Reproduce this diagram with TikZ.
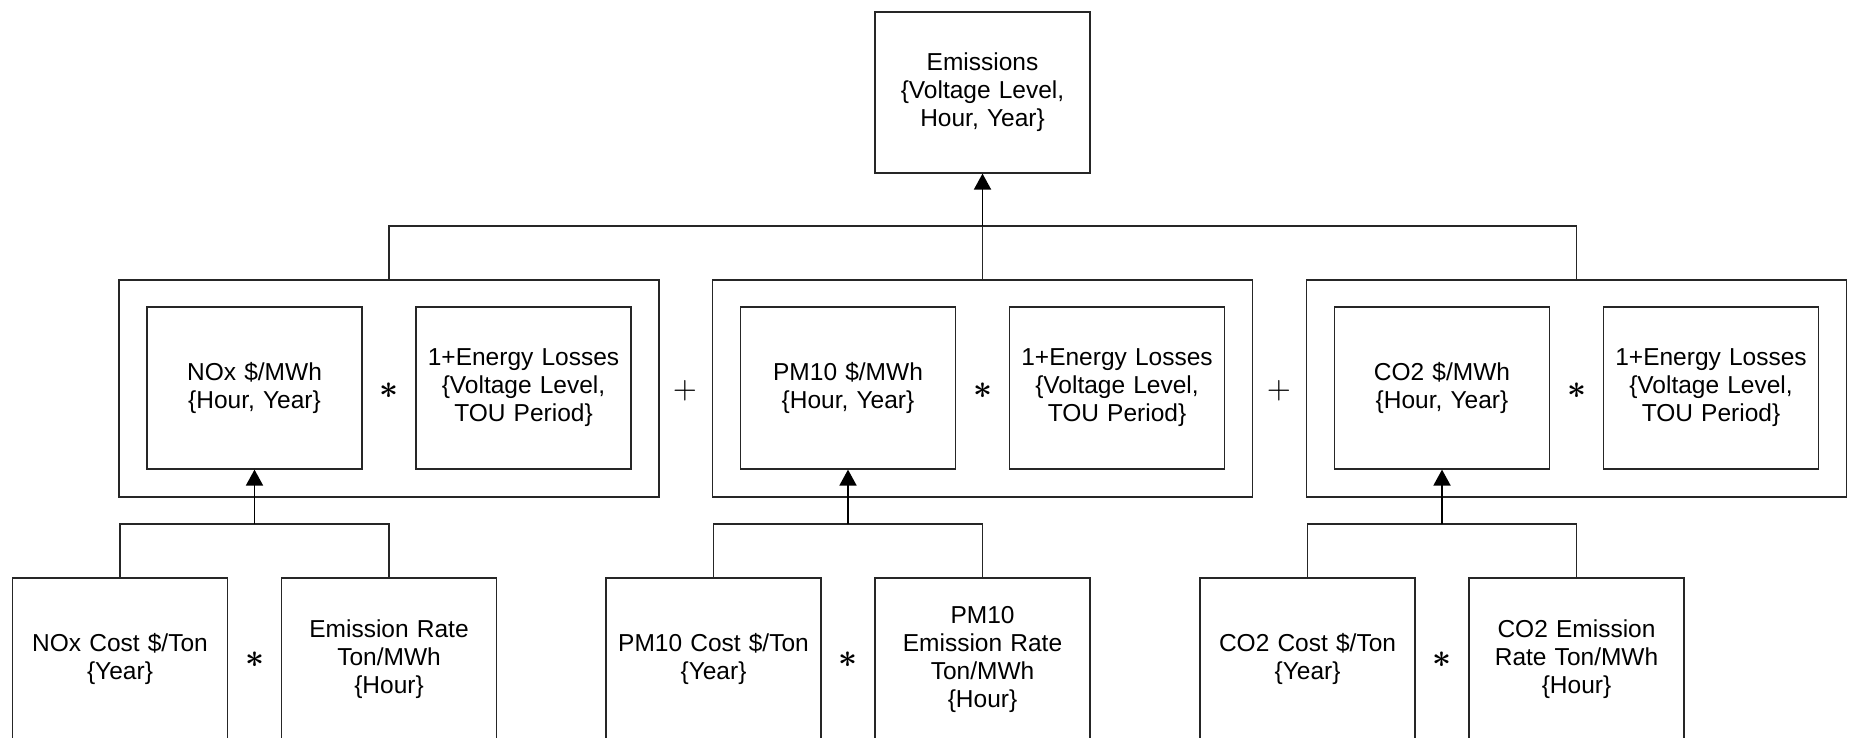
\documentclass[tikz,border=0pt]{standalone}
\usepackage{fontspec}
\usepackage{graphicx}
\setmainfont{Liberation Sans}
\usetikzlibrary{arrows.meta}
\newcommand{\opstar}{\scalebox{3.3}{\boldmath$\ast$}}
\newcommand{\opplus}{\scalebox{3.1}{$+$}}
\begin{document}
\begin{tikzpicture}[x=1pt,y=-1pt,
  every node/.style={font=\fontsize{24.5}{28}\selectfont, align=center, inner sep=0pt},
  box/.style={draw=black!85, line width=1.2pt, minimum width=215pt, minimum height=162pt, text width=205pt},
  grp/.style={draw=black!85, line width=1.2pt, minimum width=540pt, minimum height=217pt},
  conn/.style={draw=black!85, line width=1.2pt},
  arr/.style={draw=black, line width=1.8pt, -{Triangle[width=17pt,length=16pt]}},
  op/.style={font=\normalsize}
]
\useasboundingbox (0,0) rectangle (1854,737);
\clip (0,0) rectangle (1854,737);

% top
\node[box, minimum height=161pt] (top) at (982.5,92.5) {Emissions\\\{Voltage Level,\\Hour, Year\}};

% groups
\node[grp] (g1) at (389,388.5) {};
\node[grp] (g2) at (982.5,388.5) {};
\node[grp] (g3) at (1576.5,388.5) {};

% inner boxes
\node[box] (a1) at (254.5,388) {NOx \$/MWh\\\{Hour, Year\}};
\node[box] (l1) at (523.5,388) {1+Energy Losses\\\{Voltage Level,\\TOU Period\}};
\node[box] (a2) at (848,388) {PM10 \$/MWh\\\{Hour, Year\}};
\node[box] (l2) at (1117,388) {1+Energy Losses\\\{Voltage Level,\\TOU Period\}};
\node[box] (a3) at (1442,388) {CO2 \$/MWh\\\{Hour, Year\}};
\node[box] (l3) at (1711,388) {1+Energy Losses\\\{Voltage Level,\\TOU Period\}};

% operators middle row
\node[op] (m1) at (389,391) {\opstar};
\node[op] (m2) at (982.5,391) {\opstar};
\node[op] (m3) at (1576.5,391) {\opstar};
\node[op] (p1) at (685,391) {\opplus};
\node[op] (p2) at (1279,391) {\opplus};

% bottom boxes
\node[box] (c1) at (120,659) {NOx Cost \$/Ton\\\{Year\}};
\node[box] (r1) at (389,659) {Emission Rate\\Ton/MWh\\\{Hour\}};
\node[box] (c2) at (713.5,659) {PM10 Cost \$/Ton\\\{Year\}};
\node[box] (r2) at (982.5,659) {PM10\\Emission Rate\\Ton/MWh\\\{Hour\}};
\node[box] (c3) at (1307.5,659) {CO2 Cost \$/Ton\\\{Year\}};
\node[box] (r3) at (1576.5,659) {CO2 Emission\\Rate Ton/MWh\\\{Hour\}};

\node[op] (s1) at (254.5,660) {\opstar};
\node[op] (s2) at (848,660) {\opstar};
\node[op] (s3) at (1442,660) {\opstar};

% connectors top
\coordinate (jt) at (982.5,226);
\draw[conn] (g1.north) |- (jt) -| (g3.north);
\draw[conn] (g2.north) -- (jt);
\draw[arr] (jt) -- (top.south);

% connectors bottom
\coordinate (j1) at (254.5,524);
\coordinate (j2) at (848,524);
\coordinate (j3) at (1442,524);
\draw[conn] (c1.north) |- (j1) -| (r1.north);
\draw[conn] (c2.north) |- (j2) -| (r2.north);
\draw[conn] (c3.north) |- (j3) -| (r3.north);
\draw[arr] (j1) -- (a1.south);
\draw[arr] (j2) -- (a2.south);
\draw[arr] (j3) -- (a3.south);
\end{tikzpicture}
\end{document}
